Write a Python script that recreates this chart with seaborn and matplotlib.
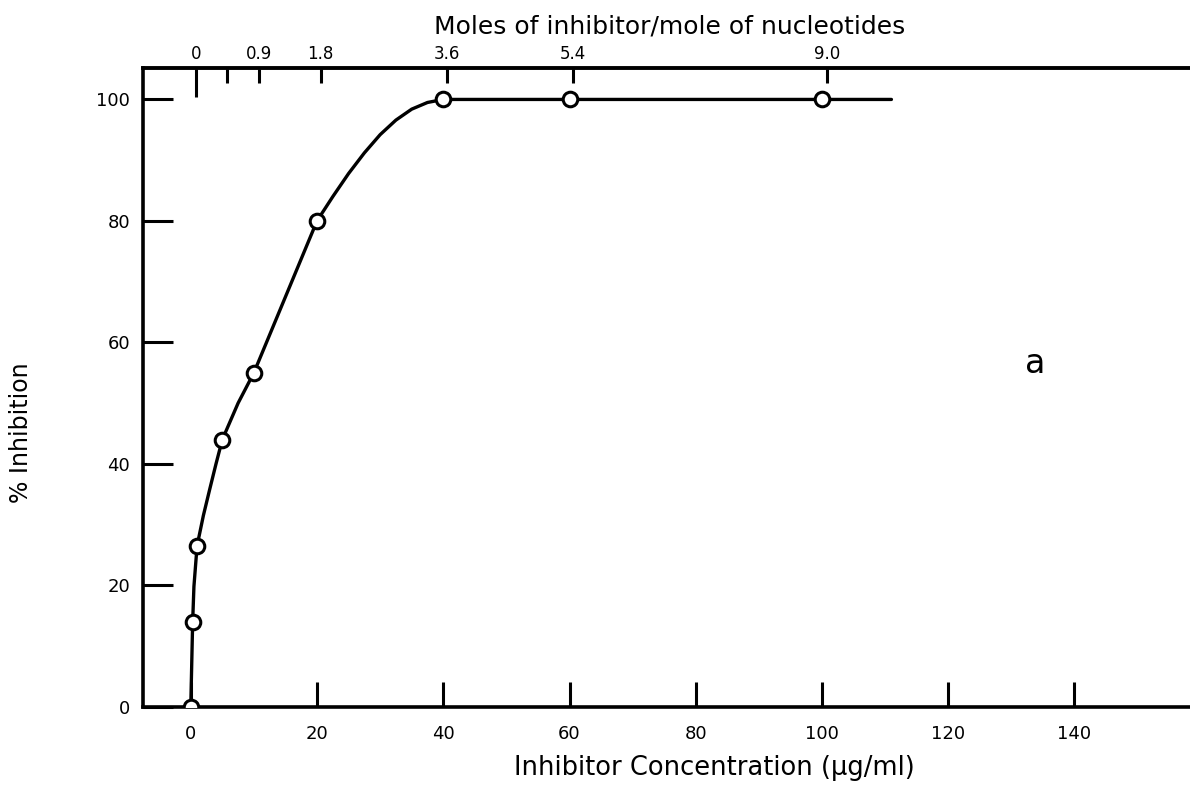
import matplotlib
matplotlib.use("Agg")
import matplotlib.pyplot as plt
import seaborn as sns
import pandas as pd

# measured points (inhibitor concentration µg/ml, % inhibition)
conc = [0, 0.3, 1, 5, 10, 20, 40, 60, 100]
inhib = [0, 14, 26.5, 44, 55, 80, 100, 100, 100]

# hand-drawn smooth curve
curve_conc = [0, 0.3, 0.5, 1, 2, 3, 4, 5, 7.5, 10, 15, 20,
              22.5, 25, 27.5, 30, 32.5, 35, 37.5, 40, 60, 100, 111]
curve_inhib = [0, 14, 19.8, 26.5, 31.5, 35.8, 40, 44, 50, 55, 67.5, 80,
               84, 87.8, 91.2, 94.2, 96.6, 98.4, 99.5, 100, 100, 100, 100]

bottom_ticks = [0, 20, 40, 60, 80, 100, 120, 140]
left_ticks = [0, 20, 40, 60, 80, 100]
top_tick_pos = [0.8, 5.8, 10.8, 20.6, 40.6, 60.5, 100.8]
top_tick_labels = ['0', '', '0.9', '1.8', '3.6', '5.4', '9.0']

sns.set_theme(style="white")
plt.rcParams['font.family'] = ['DejaVu Sans']

pts = pd.DataFrame({'conc': conc, 'inhib': inhib})
curve = pd.DataFrame({'conc': curve_conc, 'inhib': curve_inhib})

fig = plt.figure(figsize=(11.9, 7.87), dpi=100)
ax = fig.add_axes([0.12, 0.102, 0.88, 0.811])

sns.lineplot(data=curve, x='conc', y='inhib', ax=ax, color='black',
             linewidth=2.4, sort=False, estimator=None, zorder=2)
sns.scatterplot(data=pts, x='conc', y='inhib', ax=ax, s=110,
                facecolor='white', edgecolor='black', linewidth=2.2,
                zorder=3)

ax.set_xlim(-7.6, 158.3)
ax.set_ylim(0, 105.1)

for side in ['left', 'bottom', 'top']:
    ax.spines[side].set_visible(True)
    ax.spines[side].set_linewidth(2.6)
    ax.spines[side].set_color('black')
ax.spines['right'].set_visible(False)

ax.set_xticks(bottom_ticks)
ax.set_yticks(left_ticks)
ax.tick_params(axis='x', direction='in', length=18, width=2.2, pad=13,
               labelsize=13, colors='black', bottom=True, top=False)
ax.tick_params(axis='y', direction='in', length=21.6, width=2.2, pad=9,
               labelsize=13, colors='black', left=True, right=False)

# top axis: the first (0) tick is drawn longer than the others
secax = ax.secondary_xaxis('top')
secax.set_xticks(top_tick_pos[1:], labels=top_tick_labels[1:])
secax.set_xticks(top_tick_pos[:1], labels=top_tick_labels[:1], minor=True)
secax.tick_params(which='major', direction='in', length=11, width=2.2,
                  pad=4, labelsize=12, colors='black')
secax.tick_params(which='minor', direction='in', length=21, width=2.2,
                  pad=4, labelsize=12, colors='black')
secax.spines['top'].set_linewidth(2.6)

ax.set_xlabel('Inhibitor Concentration (μg/ml)', fontsize=18.5,
              color='black', va='center')
ax.xaxis.set_label_coords(0.546, -0.096)
ax.set_ylabel('% Inhibition', fontsize=17, color='black')
ax.yaxis.set_label_coords(-0.105, 0.43)

fig.text(670 / 1190, 1 - 26 / 787, 'Moles of inhibitor/mole of nucleotides',
         ha='center', va='center', fontsize=18, color='black')

ax.text(133.7, 56.6, 'a', fontsize=24, ha='center', va='center',
        color='black')

fig.savefig('out.png', dpi=100, facecolor='white')
